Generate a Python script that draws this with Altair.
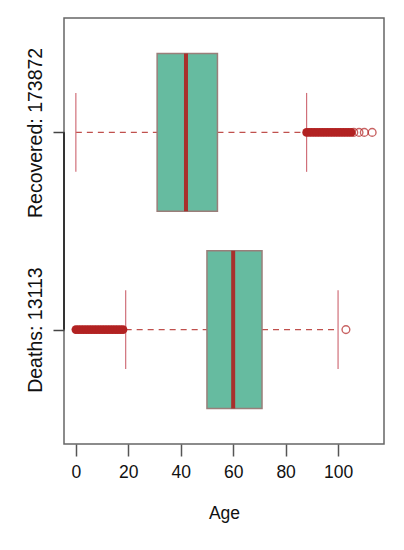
import altair as alt
import pandas as pd

# ---- data ----
groups = ["Recovered: 173872", "Deaths: 13113"]
positions = [2, 1]
q1 = [31, 50]
median = [42, 60]
q3 = [54, 71]
whisker_low = [0, 19]
whisker_high = [88, 100]

# outliers that overlap into a solid band, and the isolated ones
recovered_outliers_dense = [88, 89, 90, 91, 92, 93, 94, 95, 96, 97, 98, 99,
                            100, 101, 102, 103, 104, 105]
recovered_outliers_sparse = [106, 108, 110, 113]
deaths_outliers_dense = [0, 1, 2, 3, 4, 5, 6, 7, 8, 9, 10, 11, 12, 13, 14,
                         15, 16, 17, 18]
deaths_outliers_sparse = [103]

box_df = pd.DataFrame({
    "group": groups, "pos": positions, "q1": q1, "median": median,
    "q3": q3, "lo": whisker_low, "hi": whisker_high,
})
dense_df = pd.DataFrame({
    "age": recovered_outliers_dense + deaths_outliers_dense,
    "pos": [positions[0]] * len(recovered_outliers_dense)
    + [positions[1]] * len(deaths_outliers_dense),
})
sparse_df = pd.DataFrame({
    "age": recovered_outliers_sparse + deaths_outliers_sparse,
    "pos": [positions[0]] * len(recovered_outliers_sparse)
    + [positions[1]] * len(deaths_outliers_sparse),
})

FONT = "Liberation Sans"
xscale = alt.Scale(domain=[-4.52, 117.52], nice=False, zero=False)
yscale = alt.Scale(domain=[0.42, 2.58], nice=False, zero=False)
xaxis = alt.Axis(values=[0, 20, 40, 60, 80, 100], title="Age", grid=False,
                 domain=False, tickSize=12, tickWidth=1.5, tickColor="#555",
                 labelFontSize=17.5, labelPadding=7, labelColor="#111",
                 titleFontSize=17.5, titleFontWeight="normal", titlePadding=24,
                 titleColor="#111", labelFont=FONT, titleFont=FONT)
yaxis = alt.Axis(values=[1, 2], title=None, grid=False, domain=False,
                 tickSize=11, tickWidth=1.5, tickColor="#444",
                 labelExpr="datum.value == 2 ? 'Recovered: 173872' : 'Deaths: 13113'",
                 labelAngle=270, labelAlign="center", labelBaseline="bottom",
                 labelFontSize=19.5, labelPadding=8, labelColor="#111", labelFont=FONT)


def X(f):
    return alt.X(f, type="quantitative", scale=xscale, axis=xaxis)


def Y(f):
    return alt.Y(f, type="quantitative", scale=yscale, axis=yaxis)


base = alt.Chart(box_df).transform_calculate(
    b_lo="datum.pos - 0.4", b_hi="datum.pos + 0.4",
    c_lo="datum.pos - 0.2", c_hi="datum.pos + 0.2",
)

whisk_color = "#C0504D"
w_left = base.mark_rule(color=whisk_color, strokeDash=[6, 5], strokeWidth=1.2).encode(
    x=X("lo"), x2="q1", y=Y("pos"))
w_right = base.mark_rule(color=whisk_color, strokeDash=[6, 5], strokeWidth=1.2).encode(
    x=X("q3"), x2="hi", y=Y("pos"))
cap_lo = base.mark_rule(color="#D0707A", strokeWidth=1.2).encode(
    x=X("lo"), y=Y("c_lo:Q"), y2="c_hi:Q")
cap_hi = base.mark_rule(color="#D0707A", strokeWidth=1.2).encode(
    x=X("hi"), y=Y("c_lo:Q"), y2="c_hi:Q")
boxes = base.mark_rect(fill="#66BBA0", stroke="#9A7E7A", strokeWidth=1.5).encode(
    x=X("q1"), x2="q3", y=Y("b_lo:Q"), y2="b_hi:Q")
med = base.mark_rule(color="#A8302C", strokeWidth=4).encode(
    x=X("median"), y=Y("b_lo:Q"), y2="b_hi:Q")
dense = alt.Chart(dense_df).mark_point(
    shape="circle", filled=True, color="#B22222", size=75, opacity=1
).encode(x=X("age"), y=Y("pos"))
sparse = alt.Chart(sparse_df).mark_point(
    shape="circle", filled=False, color="#B22222", size=60, strokeWidth=1.4
).encode(x=X("age"), y=Y("pos"))
yline = alt.Chart(box_df).mark_rule(color="#333", strokeWidth=1.8).encode(
    x=alt.value(0), y=alt.datum(1, scale=yscale, axis=yaxis), y2=alt.datum(2))

chart = alt.layer(w_left, w_right, cap_lo, cap_hi, boxes, med, dense, sparse, yline).properties(
    width=320, height=426,
    autosize=alt.AutoSizeParams(type="none"),
    padding={"left": 56, "top": 10, "right": 12, "bottom": 96},
    background="white",
).configure_view(stroke="#666", strokeWidth=1.5)

chart.save("out.html", embed_options={"renderer": "svg", "actions": False})
